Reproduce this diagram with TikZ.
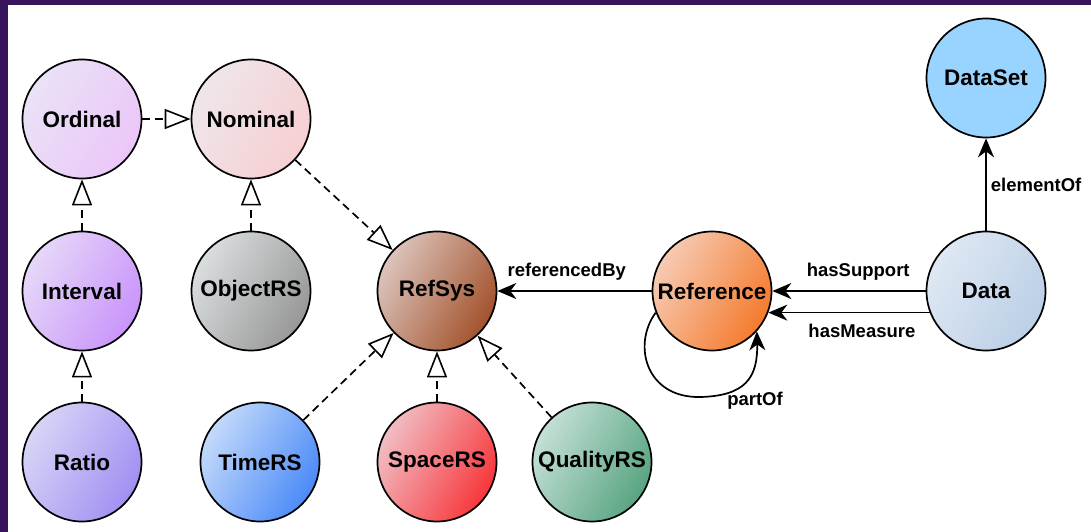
\documentclass[tikz,border=0pt]{standalone}
\usepackage{fontspec}
\setmainfont{Liberation Sans}
\usetikzlibrary{arrows.meta}

\definecolor{slideedge}{HTML}{37145B}
\definecolor{ordA}{HTML}{EAE2F7}  \definecolor{ordB}{HTML}{EBC6F8}
\definecolor{nomA}{HTML}{EFE6EA}  \definecolor{nomB}{HTML}{F6CFD2}
\definecolor{intA}{HTML}{E6D8F9}  \definecolor{intB}{HTML}{C994FA}
\definecolor{ratA}{HTML}{D7D5F7}  \definecolor{ratB}{HTML}{A28FF2}
\definecolor{objA}{HTML}{DADEDF}  \definecolor{objB}{HTML}{979797}
\definecolor{rfsA}{HTML}{DCC4BC}  \definecolor{rfsB}{HTML}{A3522C}
\definecolor{timA}{HTML}{C4DAFA}  \definecolor{timB}{HTML}{4A8AF8}
\definecolor{spaA}{HTML}{F1BEC4}  \definecolor{spaB}{HTML}{F7363A}
\definecolor{quaA}{HTML}{C4E0D6}  \definecolor{quaB}{HTML}{58A481}
\definecolor{refA}{HTML}{F6CBB4}  \definecolor{refB}{HTML}{F57A2C}
\definecolor{datA}{HTML}{DFE8F3}  \definecolor{datB}{HTML}{BBCFE6}
\definecolor{dsetfill}{HTML}{99D3FF}

\begin{document}
\begin{tikzpicture}[x=1pt, y=-1pt,
  concept/.style={circle, draw=black, line width=1.7pt, minimum size=119pt,
    inner sep=0pt, font=\fontsize{22.5}{26}\selectfont\bfseries},
  grad/.style 2 args={left color=#1, right color=#2, shading angle=60},
  isa/.style={line width=1.7pt, dash pattern=on 8pt off 5pt,
    -{Triangle[length=26pt, width=20pt, fill=white, line width=1.6pt]}},
  rel/.style={line width=1.7pt, -{Stealth[length=19pt, width=16pt, inset=6pt]}},
  lbl/.style={font=\fontsize{18.5}{22}\selectfont\bfseries, inner sep=0pt}]

% page with the slide's dark edge on top and left
\useasboundingbox (0,0) rectangle (1091,532);
\fill[slideedge] (0,0) rectangle (1091,532);
\fill[white] (8,5) rectangle (1091,532);

% scales of measurement
\node[concept, grad={ordA}{ordB}] (ordinal)  at (82,119) {Ordinal};
\node[concept, grad={nomA}{nomB}] (nominal)  at (251,119) {Nominal};
\node[concept, grad={intA}{intB}] (interval) at (82,291) {Interval};
\node[concept, grad={ratA}{ratB}] (ratio)    at (82,462) {Ratio};

% reference systems
\node[concept, grad={objA}{objB}] (objectrs)  at (251,291) {ObjectRS};
\node[concept, grad={rfsA}{rfsB}] (refsys)    at (437,291) {RefSys};
\node[concept, grad={timA}{timB}] (timers)    at (260,462) {TimeRS};
\node[concept, grad={spaA}{spaB}] (spacers)   at (437,462) {SpaceRS};
\node[concept, grad={quaA}{quaB}] (qualityrs) at (592,462) {QualityRS};

% data side
\node[concept, grad={refA}{refB}] (reference) at (712,291) {Reference};
\node[concept, grad={datA}{datB}] (data)      at (986,291) {Data};
\node[concept, fill=dsetfill]     (dataset)   at (986,78)  {DataSet};

% generalisations
\draw[isa] (ordinal)   -- (nominal);
\draw[isa] (interval)  -- (ordinal);
\draw[isa] (ratio)     -- (interval);
\draw[isa] (objectrs)  -- (nominal);
\draw[isa] (nominal)   -- (refsys);
\draw[isa] (timers)    -- (refsys);
\draw[isa] (spacers)   -- (refsys);
\draw[isa] (qualityrs) -- (refsys);

% relations
\draw[rel] (reference) -- node[lbl, pos=0.55, anchor=base, yshift=15pt] {referencedBy} (refsys);
\draw[rel] (data.west) -- node[lbl, pos=0.44, anchor=base, yshift=15pt] {hasSupport} (reference.east);
\draw[rel] (data.201) -- node[lbl, pos=0.42, anchor=base, yshift=-25pt] {hasMeasure} (reference.339);
\draw[rel] (data) -- node[lbl, pos=0.5, anchor=west, xshift=4pt] {elementOf} (dataset);
\draw[rel] (reference.201) .. controls (632,345) and (646,398) .. (700,397)
                           .. controls (745,396) and (758,378) .. (reference.318);
\node[lbl, anchor=base] (partof) at (755,405) {partOf};
\end{tikzpicture}
\end{document}
